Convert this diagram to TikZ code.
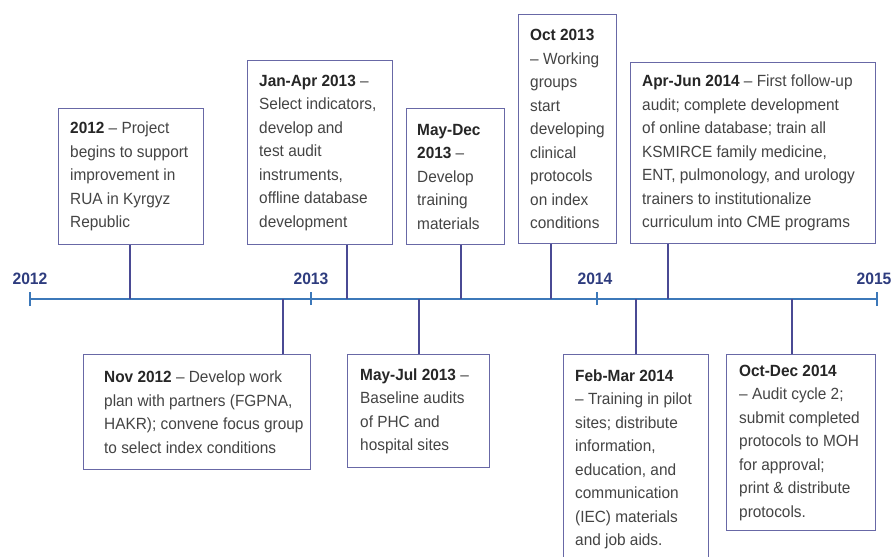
\documentclass[tikz,border=0pt]{standalone}
\usepackage{fontspec}
\setmainfont[FakeStretch=0.95]{Liberation Sans}
\definecolor{axisc}{HTML}{3C78B9}
\definecolor{connc}{HTML}{4A4A94}
\definecolor{boxc}{HTML}{6868A6}
\definecolor{txtc}{HTML}{444444}
\definecolor{datec}{HTML}{262626}
\definecolor{yearc}{HTML}{2E3C7E}
\newcommand{\dt}[1]{\textbf{\color{datec}#1}}
\begin{document}
\begin{tikzpicture}[x=1pt,y=-1pt,
  evbox/.style={draw=boxc, line width=1.3pt, fill=white, anchor=north west,
    inner sep=0pt},
  evtext/.style={anchor=west, align=left, inner sep=0pt, text=txtc,
    font=\fontsize{16.2}{23.5}\selectfont},
  conn/.style={draw=connc, line width=1.4pt},
  axisline/.style={draw=axisc, line width=2.6pt},
  endtick/.style={draw=axisc, line width=2.6pt},
  midtick/.style={draw=axisc, line width=2.4pt},
  yearlbl/.style={text=yearc, font=\fontsize{16.5}{18}\selectfont\bfseries, inner sep=0pt}
]
\clip (0,0) rectangle (895,557);
\useasboundingbox (0,0) rectangle (895,557);

% axis
\coordinate (y12) at (30,299);
\coordinate (y13) at (311,299);
\coordinate (y14) at (597,299);
\coordinate (y15) at (877,299);
\draw[axisline] (y12) -- (y15);
\draw[endtick] ([yshift=-7pt]y12) -- ([yshift=7pt]y12);
\draw[endtick] ([yshift=-7pt]y15) -- ([yshift=7pt]y15);
\draw[midtick] ([yshift=-6pt]y13) -- ([yshift=7pt]y13);
\draw[midtick] ([yshift=-6pt]y14) -- ([yshift=7pt]y14);

\node[yearlbl] (l12) at (30,279) {2012};
\node[yearlbl] (l13) at (311,279) {2013};
\node[yearlbl] (l14) at (595,279) {2014};
\node[yearlbl] (l15) at (874,279) {2015};

% axis attachment points
\coordinate (a1) at (130,299);
\coordinate (a2) at (347,299);
\coordinate (a3) at (461,299);
\coordinate (a4) at (551,299);
\coordinate (a5) at (668,299);
\coordinate (a6) at (283,299);
\coordinate (a7) at (419,299);
\coordinate (a8) at (636,299);
\coordinate (a9) at (792,299);

% boxes
\node[evbox, minimum width=145pt, minimum height=136pt] (b1) at (58,108) {};
\node[evbox, minimum width=145pt, minimum height=184pt] (b2) at (247,60) {};
\node[evbox, minimum width=98pt, minimum height=136pt] (b3) at (406,108) {};
\node[evbox, minimum width=98pt, minimum height=229pt] (b4) at (518,14) {};
\node[evbox, minimum width=245pt, minimum height=181pt] (b5) at (630,62) {};
\node[evbox, minimum width=227pt, minimum height=115pt] (b6) at (83,354) {};
\node[evbox, minimum width=142pt, minimum height=113pt] (b7) at (347,354) {};
\node[evbox, minimum width=145pt, minimum height=209pt] (b8) at (563,354) {};
\node[evbox, minimum width=149pt, minimum height=176pt] (b9) at (726,354) {};

% texts
\node[evtext] (t1) at ([xshift=12pt]b1.west)
 {\dt{2012} – Project\\begins to support\\improvement in\\RUA in Kyrgyz\\Republic};
\node[evtext] (t2) at ([xshift=12pt]b2.west)
 {\dt{Jan-Apr 2013} –\\Select indicators,\\develop and\\test audit\\instruments,\\offline database\\development};
\node[evtext] (t3) at ([xshift=11pt]b3.west)
 {\dt{May-Dec}\\\dt{2013} –\\Develop\\training\\materials};
\node[evtext] (t4) at ([xshift=12pt]b4.west)
 {\dt{Oct 2013}\\– Working\\groups\\start\\developing\\clinical\\protocols\\on index\\conditions};
\node[evtext] (t5) at ([xshift=12pt]b5.west)
 {\dt{Apr-Jun 2014} – First follow-up\\audit; complete development\\of online database; train all\\KSMIRCE family medicine,\\ENT, pulmonology, and urology\\trainers to institutionalize\\curriculum into CME programs};
\node[evtext] (t6) at ([xshift=21pt]b6.west)
 {\dt{Nov 2012} – Develop work\\plan with partners (FGPNA,\\HAKR); convene focus group\\to select index conditions};
\node[evtext] (t7) at ([xshift=13pt]b7.west)
 {\dt{May-Jul 2013} –\\Baseline audits\\of PHC and\\hospital sites};
\node[evtext] (t8) at ([xshift=12pt]b8.west)
 {\dt{Feb-Mar 2014}\\– Training in pilot\\sites; distribute\\information,\\education, and\\communication\\(IEC) materials\\and job aids.};
\node[evtext] (t9) at ([xshift=13pt]b9.west)
 {\dt{Oct-Dec 2014}\\– Audit cycle 2;\\submit completed\\protocols to MOH\\for approval;\\print \& distribute\\protocols.};

% connectors
\draw[conn] (b1.south -| a1) -- (a1);
\draw[conn] (b2.south -| a2) -- (a2);
\draw[conn] (b3.south -| a3) -- (a3);
\draw[conn] (b4.south -| a4) -- (a4);
\draw[conn] (b5.south -| a5) -- (a5);
\draw[conn] (b6.north -| a6) -- (a6);
\draw[conn] (b7.north -| a7) -- (a7);
\draw[conn] (b8.north -| a8) -- (a8);
\draw[conn] (b9.north -| a9) -- (a9);
\end{tikzpicture}
\end{document}
